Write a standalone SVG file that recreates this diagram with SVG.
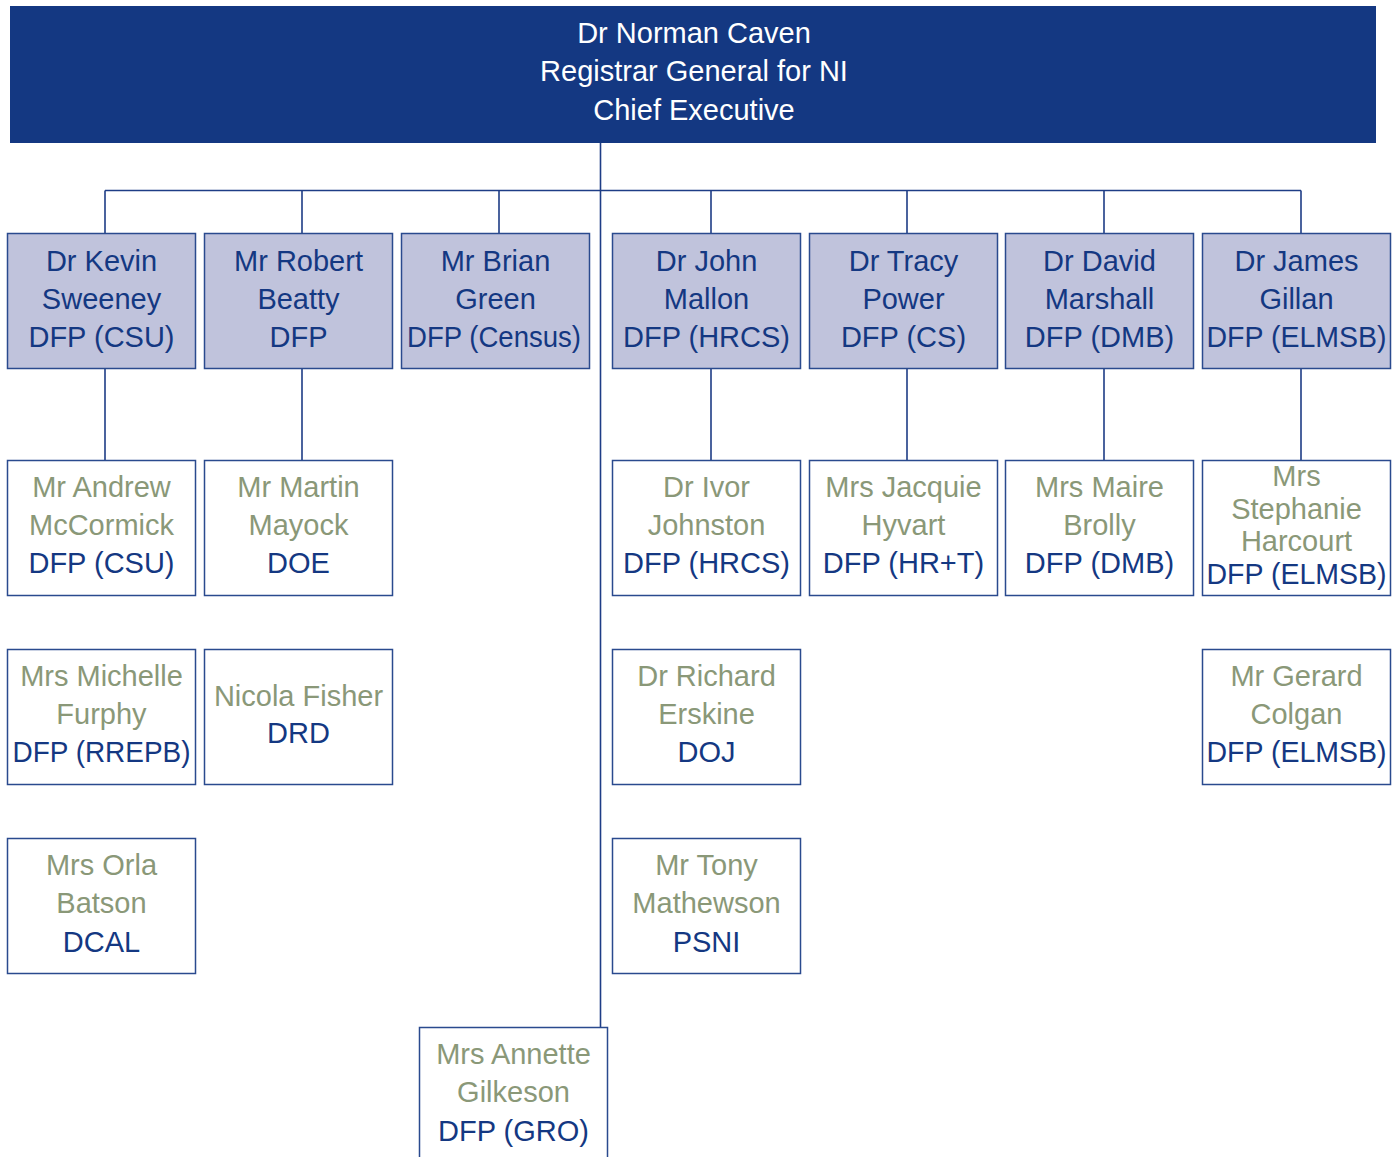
<svg xmlns="http://www.w3.org/2000/svg" width="1399" height="1157" viewBox="0 0 1399 1157">
<style>
text{font-family:"Liberation Sans",Arial,sans-serif;font-size:29px;text-anchor:middle}
.top{fill:#143882}
.top-t{fill:#ffffff}
.b1{fill:#c0c3dc;stroke:#2a4a8e;stroke-width:1.5}
.b2{fill:#ffffff;stroke:#2a4a8e;stroke-width:1.5}
.d{fill:#143882}
.g{fill:#8a9878}
.ln{stroke:#1e3d86;stroke-width:1.6;fill:none}
</style>
<rect width="1399" height="1157" fill="#ffffff"/>
<g id="connectors">
<path class="ln" d="M600.5 143V1027.5M105 190.5H1301M105 190.5V233.5M302 190.5V233.5M499 190.5V233.5M711 190.5V233.5M907 190.5V233.5M1104 190.5V233.5M1301 190.5V233.5M105 368V460.5M302 368V460.5M711 368V460.5M907 368V460.5M1104 368V460.5M1301 368V460.5"/>
</g>
<g id="n-caven">
<rect class="top" x="10" y="6" width="1366" height="137"/>
<text class="top-t" x="694" y="43">Dr Norman Caven</text>
<text class="top-t" x="694" y="81">Registrar General for NI</text>
<text class="top-t" x="694" y="120">Chief Executive</text>
</g>
<g id="n-sweeney">
<rect class="b1" x="7.5" y="233.5" width="188" height="135"/>
<text class="d" x="101.5" y="271">Dr Kevin</text>
<text class="d" x="101.5" y="309">Sweeney</text>
<text class="d" x="101.5" y="347">DFP (CSU)</text>
</g>
<g id="n-beatty">
<rect class="b1" x="204.5" y="233.5" width="188" height="135"/>
<text class="d" x="298.5" y="271">Mr Robert</text>
<text class="d" x="298.5" y="309">Beatty</text>
<text class="d" x="298.5" y="347">DFP</text>
</g>
<g id="n-green">
<rect class="b1" x="401.5" y="233.5" width="188" height="135"/>
<text class="d" x="495.5" y="271">Mr Brian</text>
<text class="d" x="495.5" y="309">Green</text>
<text class="d" x="494" y="347" textLength="174" lengthAdjust="spacingAndGlyphs">DFP (Census)</text>
</g>
<g id="n-mallon">
<rect class="b1" x="612.5" y="233.5" width="188" height="135"/>
<text class="d" x="706.5" y="271">Dr John</text>
<text class="d" x="706.5" y="309">Mallon</text>
<text class="d" x="706.5" y="347">DFP (HRCS)</text>
</g>
<g id="n-power">
<rect class="b1" x="809.5" y="233.5" width="188" height="135"/>
<text class="d" x="903.5" y="271">Dr Tracy</text>
<text class="d" x="903.5" y="309">Power</text>
<text class="d" x="903.5" y="347">DFP (CS)</text>
</g>
<g id="n-marshall">
<rect class="b1" x="1005.5" y="233.5" width="188" height="135"/>
<text class="d" x="1099.5" y="271">Dr David</text>
<text class="d" x="1099.5" y="309">Marshall</text>
<text class="d" x="1099.5" y="347">DFP (DMB)</text>
</g>
<g id="n-gillan">
<rect class="b1" x="1202.5" y="233.5" width="188" height="135"/>
<text class="d" x="1296.5" y="271">Dr James</text>
<text class="d" x="1296.5" y="309">Gillan</text>
<text class="d" x="1296.5" y="347" textLength="180" lengthAdjust="spacingAndGlyphs">DFP (ELMSB)</text>
</g>
<g id="n-mccormick">
<rect class="b2" x="7.5" y="460.5" width="188" height="135"/>
<text class="g" x="101.5" y="497">Mr Andrew</text>
<text class="g" x="101.5" y="535">McCormick</text>
<text class="d" x="101.5" y="573">DFP (CSU)</text>
</g>
<g id="n-mayock">
<rect class="b2" x="204.5" y="460.5" width="188" height="135"/>
<text class="g" x="298.5" y="497">Mr Martin</text>
<text class="g" x="298.5" y="535">Mayock</text>
<text class="d" x="298.5" y="573">DOE</text>
</g>
<g id="n-johnston">
<rect class="b2" x="612.5" y="460.5" width="188" height="135"/>
<text class="g" x="706.5" y="497">Dr Ivor</text>
<text class="g" x="706.5" y="535">Johnston</text>
<text class="d" x="706.5" y="573">DFP (HRCS)</text>
</g>
<g id="n-hyvart">
<rect class="b2" x="809.5" y="460.5" width="188" height="135"/>
<text class="g" x="903.5" y="497">Mrs Jacquie</text>
<text class="g" x="903.5" y="535">Hyvart</text>
<text class="d" x="903.5" y="573">DFP (HR+T)</text>
</g>
<g id="n-brolly">
<rect class="b2" x="1005.5" y="460.5" width="188" height="135"/>
<text class="g" x="1099.5" y="497">Mrs Maire</text>
<text class="g" x="1099.5" y="535">Brolly</text>
<text class="d" x="1099.5" y="573">DFP (DMB)</text>
</g>
<g id="n-harcourt">
<rect class="b2" x="1202.5" y="460.5" width="188" height="135"/>
<text class="g" x="1296.5" y="486">Mrs</text>
<text class="g" x="1296.5" y="519">Stephanie</text>
<text class="g" x="1296.5" y="551">Harcourt</text>
<text class="d" x="1296.5" y="584" textLength="180" lengthAdjust="spacingAndGlyphs">DFP (ELMSB)</text>
</g>
<g id="n-furphy">
<rect class="b2" x="7.5" y="649.5" width="188" height="135"/>
<text class="g" x="101.5" y="686">Mrs Michelle</text>
<text class="g" x="101.5" y="724">Furphy</text>
<text class="d" x="101.5" y="762" textLength="178" lengthAdjust="spacingAndGlyphs">DFP (RREPB)</text>
</g>
<g id="n-fisher">
<rect class="b2" x="204.5" y="649.5" width="188" height="135"/>
<text class="g" x="298.5" y="706">Nicola Fisher</text>
<text class="d" x="298.5" y="743">DRD</text>
</g>
<g id="n-erskine">
<rect class="b2" x="612.5" y="649.5" width="188" height="135"/>
<text class="g" x="706.5" y="686">Dr Richard</text>
<text class="g" x="706.5" y="724">Erskine</text>
<text class="d" x="706.5" y="762">DOJ</text>
</g>
<g id="n-colgan">
<rect class="b2" x="1202.5" y="649.5" width="188" height="135"/>
<text class="g" x="1296.5" y="686">Mr Gerard</text>
<text class="g" x="1296.5" y="724">Colgan</text>
<text class="d" x="1296.5" y="762" textLength="180" lengthAdjust="spacingAndGlyphs">DFP (ELMSB)</text>
</g>
<g id="n-batson">
<rect class="b2" x="7.5" y="838.5" width="188" height="135"/>
<text class="g" x="101.5" y="875">Mrs Orla</text>
<text class="g" x="101.5" y="913">Batson</text>
<text class="d" x="101.5" y="952">DCAL</text>
</g>
<g id="n-mathewson">
<rect class="b2" x="612.5" y="838.5" width="188" height="135"/>
<text class="g" x="706.5" y="875">Mr Tony</text>
<text class="g" x="706.5" y="913">Mathewson</text>
<text class="d" x="706.5" y="952">PSNI</text>
</g>
<g id="n-gilkeson">
<rect class="b2" x="419.5" y="1027.5" width="188" height="140"/>
<text class="g" x="513.5" y="1064">Mrs Annette</text>
<text class="g" x="513.5" y="1102">Gilkeson</text>
<text class="d" x="513.5" y="1141">DFP (GRO)</text>
</g>
</svg>
